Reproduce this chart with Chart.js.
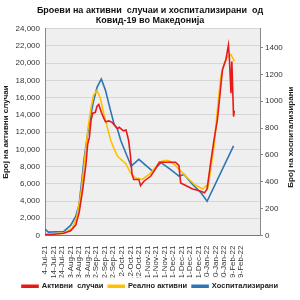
<!DOCTYPE html>
<html>
<head>
<meta charset="utf-8">
<script src="https://cdn.jsdelivr.net/npm/chart.js@4.4.1/dist/chart.umd.min.js"></script>
<style>
  body { margin: 0; background: #fff; }
  #wrap { width: 300px; height: 300px; }
</style>
</head>
<body>
<div id="wrap"><canvas id="lineChart"></canvas></div>
<script>
// days counted from 4-Jul-21
var tickDays = [0, 10, 20, 30, 40, 50, 60, 70, 80, 90, 100, 110, 120, 130, 140, 150, 160, 170, 180, 190, 200, 210, 220, 230];
var tickLabels = ['4-Jul-21', '14-Jul-21', '24-Jul-21', '3-Aug-21', '13-Aug-21', '23-Aug-21', '2-Sep-21', '12-Sep-21',
  '22-Sep-21', '2-Oct-21', '12-Oct-21', '22-Oct-21', '1-Nov-21', '11-Nov-21', '21-Nov-21', '1-Dec-21', '11-Dec-21',
  '21-Dec-21', '31-Dec-21', '10-Jan-22', '20-Jan-22', '30-Jan-22', '9-Feb-22', '19-Feb-22'];

var activeDays = [0, 10, 22, 30, 36, 40, 44, 48, 50, 52, 54, 56, 59, 61, 63, 64, 66, 69, 71, 75, 79, 85, 87, 92, 95, 98,
  100, 102, 104, 110, 112, 116, 124, 128, 134, 142, 153, 157, 159, 165, 173, 181, 187, 190, 194, 198, 202, 204, 208,
  212, 215, 216, 218, 219, 221, 222];
var activeCases = [100, 150, 270, 550, 1200, 2650, 5200, 8300, 10600, 11350, 13400, 14200, 14300, 15000, 15200, 14900,
  14300, 13600, 13200, 13300, 13100, 12400, 12550, 12150, 12250, 11050, 9400, 7100, 6500, 6500, 5800, 6300, 6900, 7500,
  8500, 8500, 8500, 8100, 6100, 5800, 5400, 5200, 4950, 5400, 8300, 11050, 13400, 15300, 19250, 20400, 22100, 20800,
  16500, 20200, 13800, 14500];

var realDays = [0, 22, 32, 37, 42, 46, 50, 54, 57, 61, 65, 69, 73, 77, 81, 85, 95, 100, 106, 114, 122, 128, 134, 140,
  145, 151, 159, 169, 177, 185, 189, 191, 194, 198, 202, 206, 210, 214, 218, 222];
var realActive = [150, 270, 850, 2050, 4750, 8300, 12150, 14900, 16300, 16850, 15900, 14100, 12550, 11050, 10050, 9200,
  8300, 7300, 6700, 6500, 7100, 7700, 8500, 8700, 8700, 8300, 7500, 6500, 5800, 5400, 5800, 5600, 7500, 10250, 14500,
  18450, 20000, 20800, 21000, 20200];

var hospDays = [0, 4, 22, 30, 36, 40, 43, 46, 50, 54, 57, 61, 65, 66, 71, 76, 81, 85, 89, 97, 101, 110, 126, 136, 147,
  157, 163, 173, 183, 190, 221];
var hospitalized = [47, 25, 30, 75, 142, 232, 404, 579, 756, 906, 1004, 1103, 1153, 1166, 1079, 950, 829, 790, 704, 579,
  517, 567, 479, 542, 492, 442, 455, 380, 317, 255, 667];

function toPoints(days, vals) {
  return days.map(function (d, i) { return { x: d, y: vals[i] }; });
}

var fontFam = "'Liberation Sans', Arial, sans-serif";

var bgAndTitles = {
  id: 'bgAndTitles',
  beforeDraw: function (chart) {
    var a = chart.chartArea, c = chart.ctx;
    c.save();
    c.fillStyle = '#efefef';
    c.fillRect(a.left, a.top, a.right - a.left, a.bottom - a.top);
    c.restore();
  },
  afterDraw: function (chart) {
    var a = chart.chartArea, c = chart.ctx;
    var mid = (a.top + a.bottom) / 2;
    c.save();
    c.font = 'bold 8px ' + fontFam;
    c.fillStyle = '#222';
    c.textAlign = 'center';
    c.textBaseline = 'middle';
    c.translate(6, mid);
    c.rotate(-Math.PI / 2);
    c.fillText('Број на активни случаи', 0, 0);
    c.restore();
    c.save();
    c.font = 'bold 8px ' + fontFam;
    c.fillStyle = '#222';
    c.textAlign = 'center';
    c.textBaseline = 'middle';
    c.translate(291, mid + 5);
    c.rotate(-Math.PI / 2);
    c.fillText('Број на хоспитализирани', 0, 0);
    c.restore();
  }
};

var ctx = document.getElementById('lineChart').getContext('2d');
var myChart = new Chart(ctx, {
  type: 'line',
  data: {
    datasets: [{
      label: 'Активни  случаи',
      data: toPoints(activeDays, activeCases),
      borderColor: '#e8191b',
      backgroundColor: '#e8191b',
      yAxisID: 'y',
      order: 1
    }, {
      label: 'Реално активни',
      data: toPoints(realDays, realActive),
      borderColor: '#ffc000',
      backgroundColor: '#ffc000',
      yAxisID: 'y',
      order: 2
    }, {
      label: 'Хоспитализирани',
      data: toPoints(hospDays, hospitalized),
      borderColor: '#2e75b6',
      backgroundColor: '#2e75b6',
      yAxisID: 'y1',
      order: 3
    }]
  },
  options: {
    responsive: true,
    maintainAspectRatio: false,
    animation: false,
    elements: {
      point: { radius: 0 },
      line: { borderWidth: 1.6, tension: 0 }
    },
    layout: { padding: { left: 0, right: 0, top: 0, bottom: 0 } },
    plugins: {
      title: {
        display: true,
        text: ['Броеви на активни  случаи и хоспитализирани  од', 'Ковид-19 во Македонија'],
        color: '#111',
        font: { family: fontFam, size: 9, weight: 'bold', lineHeight: 1.15 },
        padding: { top: 5, bottom: 3 }
      },
      legend: {
        position: 'bottom',
        labels: {
          boxWidth: 16,
          boxHeight: 2,
          padding: 5,
          color: '#222',
          font: { family: fontFam, size: 7.5, weight: 'bold' }
        }
      },
      tooltip: { enabled: false }
    },
    scales: {
      x: {
        type: 'linear',
        min: 0,
        max: 252,
        afterBuildTicks: function (scale) {
          scale.ticks = tickDays.map(function (d) { return { value: d }; });
        },
        afterFit: function (scale) { scale.height = 42; },
        grid: { display: false },
        border: { display: true, color: '#777' },
        ticks: {
          autoSkip: false,
          maxRotation: 90,
          minRotation: 90,
          padding: 2,
          color: '#333',
          font: { family: fontFam, size: 8 },
          callback: function (v) {
            var i = tickDays.indexOf(v);
            return i >= 0 ? tickLabels[i] : '';
          }
        }
      },
      y: {
        position: 'left',
        min: 0,
        max: 24000,
        afterFit: function (scale) { scale.width = 45; },
        grid: { color: '#d6d6d6', drawTicks: false },
        border: { display: true, color: '#888' },
        ticks: {
          stepSize: 2000,
          padding: 5,
          color: '#333',
          font: { family: fontFam, size: 8 },
          callback: function (v) { return v.toLocaleString('en-US'); }
        }
      },
      y1: {
        position: 'right',
        min: 0,
        max: 1540,
        afterFit: function (scale) { scale.width = 40; },
        afterBuildTicks: function (scale) {
          scale.ticks = scale.ticks.filter(function (t) { return t.value % 200 === 0; });
        },
        grid: { drawOnChartArea: false, tickLength: 3, color: '#888' },
        border: { display: true, color: '#888' },
        ticks: {
          stepSize: 200,
          padding: 2,
          color: '#333',
          font: { family: fontFam, size: 8 },
          callback: function (v) { return String(v); }
        }
      }
    }
  },
  plugins: [bgAndTitles]
});
</script>
</body>
</html>
